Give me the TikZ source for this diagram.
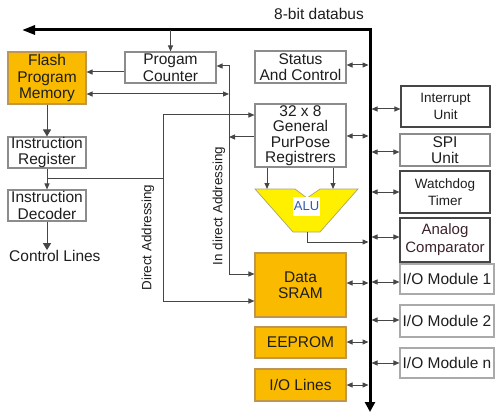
\documentclass[tikz,border=0pt]{standalone}
\usepackage{fontspec}
\setmainfont{Liberation Sans}
\usetikzlibrary{arrows.meta}
\definecolor{orangefill}{RGB}{250,186,0}
\definecolor{orangeedge}{RGB}{190,150,80}
\definecolor{boxgrey}{RGB}{140,140,140}
\definecolor{boxdark}{RGB}{70,70,70}
\definecolor{boxlight}{RGB}{170,170,170}
\definecolor{txt}{RGB}{30,30,30}
\definecolor{wire}{RGB}{70,70,70}
\definecolor{aluyellow}{RGB}{255,240,0}
\definecolor{aluedge}{RGB}{170,165,110}
\definecolor{alutext}{RGB}{50,90,170}
\definecolor{anatext}{RGB}{60,35,45}
\begin{document}
\begin{tikzpicture}[x=1pt,y=-1pt,
  box/.style={draw=boxgrey, line width=1.1pt, fill=white, inner sep=0pt,
    align=center, text=txt, font=\fontsize{15.5}{16.5}\selectfont},
  obox/.style={box, draw=orangeedge, fill=orangefill},
  dbox/.style={box, draw=boxdark},
  lbox/.style={box, draw=boxlight},
  lab/.style={inner sep=0pt, text=txt, font=\fontsize{13.4}{14}\selectfont},
  arr/.style={draw=wire, line width=1pt, -{Triangle[length=6pt,width=5pt]}},
  bigarr/.style={draw=wire, line width=1pt, -{Triangle[length=7pt,width=8pt]}},
  dbl/.style={draw=wire, line width=1pt, {Triangle[length=6pt,width=5pt]}-{Triangle[length=6pt,width=5pt]}},
  busline/.style={line width=3pt, {Triangle[length=13pt,width=9pt]}-{Triangle[length=10pt,width=10pt]}}
]
\useasboundingbox (0,0) rectangle (497,414);

% the 8-bit data bus
\coordinate (busL) at (22,30);
\coordinate (busC) at (370,30);
\coordinate (busB) at (370,412);
\draw[busline] (busL) -- (busC) -- (busB);
\node[lab, font=\fontsize{15.5}{16}\selectfont] (dbus) at (319,14) {8-bit databus};

% left column
\node[obox, minimum width=78pt, minimum height=52pt] (flash) at (47,78) {Flash\\Program\\Memory};
\node[box, minimum width=78pt, minimum height=31pt] (ir) at (47,152.5) {Instruction\\Register};
\node[box, minimum width=78pt, minimum height=31pt] (id) at (47,205.5) {Instruction\\Decoder};
\node[lab, font=\fontsize{15.5}{16.5}\selectfont, anchor=west] (ctl) at (9,256) {Control Lines};

% middle column
\node[box, minimum width=91pt, minimum height=31pt] (pc) at (170.5,67.5) {Progam\\Counter};
\node[box, minimum width=91pt, minimum height=32pt] (status) at (300.5,67) {Status\\And Control};
\node[box, minimum width=91pt, minimum height=63pt, font=\fontsize{15.5}{15.5}\selectfont] (gpr) at (300.5,135.5) {32 x 8\\General\\PurPose\\Registrers};
\node[obox, minimum width=91pt, minimum height=64pt] (sram) at (300.5,285) {Data\\SRAM};
\node[obox, minimum width=91pt, minimum height=31pt] (eeprom) at (300.5,342.5) {EEPROM};
\node[obox, minimum width=91pt, minimum height=32pt] (iolines) at (300.5,385) {I/O Lines};

% ALU
\coordinate (aluinL) at (267,189);
\coordinate (aluinR) at (333,189);
\coordinate (aluout) at (307,232);
\filldraw[fill=aluyellow, draw=aluedge, line width=0.7pt]
  (255,189) -- (295,189) -- (307,198) -- (320,189) -- (358,189) -- (320,232) -- (293,232) -- cycle;
\node[fill=white, inner sep=0pt, minimum width=27pt, minimum height=19pt,
  text=alutext, font=\fontsize{13}{14}\selectfont] (alu) at (306.5,206.5) {ALU};

% right column
\node[dbox, minimum width=89pt, minimum height=41pt, font=\fontsize{13.5}{17}\selectfont] (intr) at (445.5,106.5) {Interrupt\\Unit};
\node[box, minimum width=90pt, minimum height=32pt] (spi) at (445,150) {SPI\\Unit};
\node[dbox, minimum width=90pt, minimum height=42pt, font=\fontsize{13.5}{17}\selectfont] (wdt) at (445,192) {Watchdog\\Timer};
\node[dbox, minimum width=90pt, minimum height=44pt, font=\fontsize{15}{18}\selectfont, text=anatext] (ana) at (445,240) {Analog\\Comparator};
\node[lbox, minimum width=94pt, minimum height=30pt] (iom1) at (447,279) {I/O Module 1};
\node[lbox, minimum width=94pt, minimum height=32pt] (iom2) at (447,321) {I/O Module 2};
\node[lbox, minimum width=94pt, minimum height=30pt] (iomn) at (447,363) {I/O Module n};

% addressing labels
\node[lab, rotate=90] (dirlab) at (148,237.5) {Direct Addressing};
\node[lab, rotate=90] (indlab) at (219,206) {In direct Addressing};

% program flow
\draw[arr] (pc.north |- busC) -- (pc.north);
\draw[arr] (pc.west |- 0,72) -- (flash.east |- 0,72);
\draw[bigarr] (flash.south) -- (ir.north);
\draw[arr] (ir.south) -- (id.north);
\draw[bigarr] (id.south) -- (id.south |- ctl.north);

% indirect addressing path
\coordinate (indTop) at (229,66);
\coordinate (indBot) at (229,274);
\draw[dbl] (pc.east |- indTop) -- (indTop) -- (indBot) -- (sram.west |- indBot);
\draw[dbl] (flash.east |- 0,94) -- (indTop |- 0,94);
\draw[arr] (gpr.west |- 0,137) -- (indTop |- 0,137);

% direct addressing path
\coordinate (dirTop) at (163,115);
\coordinate (dirMid) at (163,178);
\coordinate (dirBot) at (163,301);
\draw[arr] (ir.south |- dirMid) -- (dirMid) -- (dirTop) -- (gpr.west |- dirTop);
\draw[arr] (dirMid) -- (dirBot) -- (sram.west |- dirBot);

% register file to ALU
\draw[arr] (gpr.south -| aluinL) -- (aluinL);
\draw[arr] (gpr.south -| aluinR) -- (aluinR);
\draw[arr, shorten >=1.5pt] (aluout) |- (busB |- 0,242);

% bus connections, left side
\draw[dbl, shorten >=1.5pt] (status.east |- 0,65) -- (busB |- 0,65);
\draw[dbl, shorten >=1.5pt] (gpr.east |- 0,136) -- (busB |- 0,136);
\draw[dbl, shorten >=1.5pt] (sram.east |- 0,283) -- (busB |- 0,283);
\draw[dbl, shorten >=1.5pt] (eeprom.east |- 0,342) -- (busB |- 0,342);
\draw[dbl, shorten >=1.5pt] (iolines.east |- 0,385) -- (busB |- 0,385);

% bus connections, right side
\draw[dbl, shorten >=1.5pt] (intr.west |- 0,109) -- (busB |- 0,109);
\draw[dbl, shorten >=1.5pt] (spi.west |- 0,152) -- (busB |- 0,152);
\draw[dbl, shorten >=1.5pt] (wdt.west |- 0,192) -- (busB |- 0,192);
\draw[dbl, shorten >=1.5pt] (ana.west |- 0,237) -- (busB |- 0,237);
\draw[dbl, shorten >=1.5pt] (iom1.west |- 0,282) -- (busB |- 0,282);
\draw[dbl, shorten >=1.5pt] (iom2.west |- 0,320) -- (busB |- 0,320);
\draw[dbl, shorten >=1.5pt] (iomn.west |- 0,363) -- (busB |- 0,363);
\end{tikzpicture}
\end{document}
